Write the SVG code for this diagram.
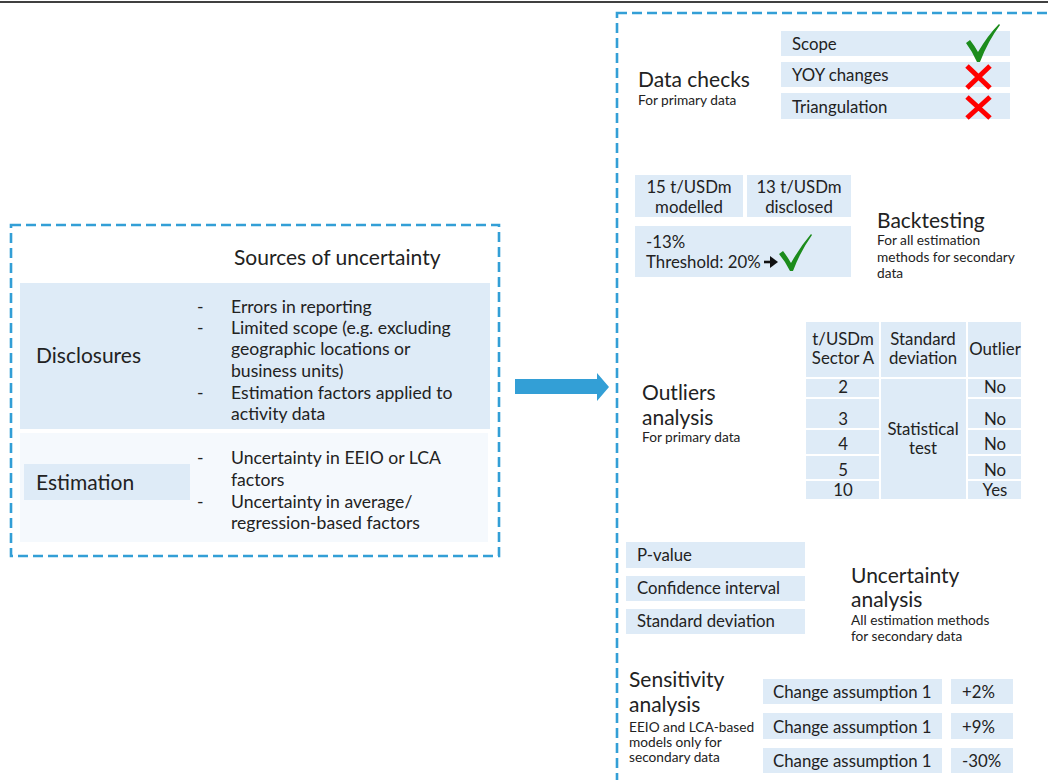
<svg xmlns="http://www.w3.org/2000/svg" width="1048" height="780" viewBox="0 0 1048 780">
<style>
text{font-family:Lato,"Open Sans","Liberation Sans",sans-serif;fill:#222}
.dash{fill:none;stroke:#339FD6;stroke-width:2.6;stroke-dasharray:10 5}
.bx{fill:#DEEBF7}
.lt{fill:#F5F9FD}
.t20{font-size:21px}
.t18{font-size:17.6px}
.t16{font-size:16.8px}
.t13{font-size:13.7px}
.c{text-anchor:middle}
.ok{fill:#1C8C1C}
.no{stroke:#FF0000;stroke-width:5;fill:none}
</style>
<line x1="0" y1="2" x2="1048" y2="2" stroke="#000" stroke-width="1.5"/>

<g id="sources">
<rect class="dash" x="11" y="225" width="488" height="331"/>
<text class="t20" x="234" y="265">Sources of uncertainty</text>
</g>
<g id="disclosures">
<rect class="bx" x="20" y="283" width="470" height="146"/>
<text class="t20" x="36" y="363">Disclosures</text>
<g class="t18">
<text x="197" y="313">-</text><text x="231" y="313">Errors in reporting</text>
<text x="197" y="334">-</text><text x="231" y="334">Limited scope (e.g. excluding</text>
<text x="231" y="355">geographic locations or</text>
<text x="231" y="377">business units)</text>
<text x="197" y="399">-</text><text x="231" y="399">Estimation factors applied to</text>
<text x="231" y="420">activity data</text>
</g>
</g>
<g id="estimation">
<rect class="lt" x="20" y="433" width="468" height="109"/>
<rect class="bx" x="24" y="464" width="166" height="36"/>
<text class="t20" x="36" y="490">Estimation</text>
<g class="t18">
<text x="197" y="464">-</text><text x="231" y="464">Uncertainty in EEIO or LCA</text>
<text x="231" y="486">factors</text>
<text x="197" y="508">-</text><text x="231" y="508">Uncertainty in average/</text>
<text x="231" y="529">regression-based factors</text>
</g>
</g>

<g id="connectors">
<polygon points="515,379 597,379 597,373 609,387 597,401 597,394 515,394" fill="#339FD6"/>
</g>

<g id="methods">
<rect class="dash" x="617" y="13" width="500" height="800"/>
</g>

<g id="data-checks">
<text class="t20" x="638" y="87">Data checks</text>
<text class="t13" x="638" y="105">For primary data</text>
<rect class="bx" x="781" y="31" width="229" height="25"/>
<rect class="bx" x="781" y="62" width="229" height="25"/>
<rect class="bx" x="781" y="93" width="229" height="26"/>
<text class="t16" x="792" y="50">Scope</text>
<text class="t16" x="792" y="81">YOY changes</text>
<text class="t16" x="792" y="113">Triangulation</text>
<path class="ok" d="M966,43 L970,40 Q974,45 978,52 Q988,35 999,24 L1000,25 Q988,41 980,62 L977,62 Q972,51 966,43 Z"/>
<path class="no" d="M967,66 L990,88 M990,66 L967,88"/>
<path class="no" d="M967,97 L990,118 M990,97 L967,118"/>
</g>

<g id="backtesting">
<rect class="bx" x="635" y="175" width="108" height="42"/>
<rect class="bx" x="747" y="175" width="104" height="42"/>
<rect class="bx" x="635" y="226" width="216" height="51"/>
<text class="t16 c" x="689" y="193">15 t/USDm</text>
<text class="t16 c" x="689" y="213">modelled</text>
<text class="t16 c" x="799" y="193">13 t/USDm</text>
<text class="t16 c" x="799" y="213">disclosed</text>
<text class="t16" x="646" y="248">-13%</text>
<text class="t16" x="646" y="268">Threshold: 20%</text>
<path d="M764,262 L772,262" stroke="#111" stroke-width="2.6"/>
<polygon points="770,256 778,262 770,268" fill="#111"/>
<path class="ok" d="M779,254 L783,251 Q787,256 791,263 Q800,247 811,234 L812,235 Q800,252 793,271 L790,271 Q785,261 779,254 Z"/>
<text class="t20" x="877" y="228">Backtesting</text>
<text class="t13" x="877" y="245">For all estimation</text>
<text class="t13" x="877" y="262">methods for secondary</text>
<text class="t13" x="877" y="278">data</text>
</g>

<g id="outliers">
<text class="t20" x="642" y="400">Outliers</text>
<text class="t20" x="642" y="425">analysis</text>
<text class="t13" x="642" y="442">For primary data</text>
<rect class="bx" x="806" y="322" width="73" height="55"/>
<rect class="bx" x="881" y="322" width="85" height="55"/>
<rect class="bx" x="968" y="322" width="53" height="55"/>
<rect class="bx" x="806" y="379" width="73" height="18"/>
<rect class="bx" x="806" y="399" width="73" height="29"/>
<rect class="bx" x="806" y="430" width="73" height="24"/>
<rect class="bx" x="806" y="456" width="73" height="23"/>
<rect class="bx" x="806" y="481" width="73" height="18"/>
<rect class="bx" x="881" y="379" width="85" height="120"/>
<rect class="bx" x="968" y="379" width="53" height="18"/>
<rect class="bx" x="968" y="399" width="53" height="29"/>
<rect class="bx" x="968" y="430" width="53" height="24"/>
<rect class="bx" x="968" y="456" width="53" height="23"/>
<rect class="bx" x="968" y="481" width="53" height="18"/>
<g class="t16 c">
<text x="843" y="345">t/USDm</text>
<text x="843" y="364">Sector A</text>
<text x="923" y="345">Standard</text>
<text x="923" y="364">deviation</text>
<text x="995" y="355">Outlier</text>
<text x="843" y="393">2</text>
<text x="843" y="425">3</text>
<text x="843" y="450">4</text>
<text x="843" y="476">5</text>
<text x="843" y="496">10</text>
<text x="923" y="435">Statistical</text>
<text x="923" y="454">test</text>
<text x="995" y="393">No</text>
<text x="995" y="425">No</text>
<text x="995" y="450">No</text>
<text x="995" y="476">No</text>
<text x="995" y="496">Yes</text>
</g>
</g>

<g id="uncertainty">
<rect class="bx" x="626" y="542" width="179" height="26"/>
<rect class="bx" x="626" y="576" width="179" height="25"/>
<rect class="bx" x="626" y="609" width="179" height="25"/>
<text class="t16" x="637" y="561">P-value</text>
<text class="t16" x="637" y="594">Confidence interval</text>
<text class="t16" x="637" y="627">Standard deviation</text>
<text class="t20" x="851" y="583">Uncertainty</text>
<text class="t20" x="851" y="607">analysis</text>
<text class="t13" x="851" y="625">All estimation methods</text>
<text class="t13" x="851" y="641">for secondary data</text>
</g>

<g id="sensitivity">
<text class="t20" x="629" y="687">Sensitivity</text>
<text class="t20" x="629" y="712">analysis</text>
<text class="t13" x="629" y="732">EEIO and LCA-based</text>
<text class="t13" x="629" y="747">models only for</text>
<text class="t13" x="629" y="762">secondary data</text>
<rect class="bx" x="763" y="679" width="179" height="25"/>
<rect class="bx" x="763" y="713" width="179" height="26"/>
<rect class="bx" x="763" y="748" width="179" height="25"/>
<rect class="bx" x="951" y="679" width="62" height="25"/>
<rect class="bx" x="951" y="713" width="62" height="26"/>
<rect class="bx" x="951" y="748" width="62" height="25"/>
<text class="t16" x="773" y="698">Change assumption 1</text>
<text class="t16" x="773" y="733">Change assumption 1</text>
<text class="t16" x="773" y="767">Change assumption 1</text>
<text class="t16" x="962" y="698">+2%</text>
<text class="t16" x="962" y="733">+9%</text>
<text class="t16" x="962" y="767">-30%</text>
</g>
</svg>
